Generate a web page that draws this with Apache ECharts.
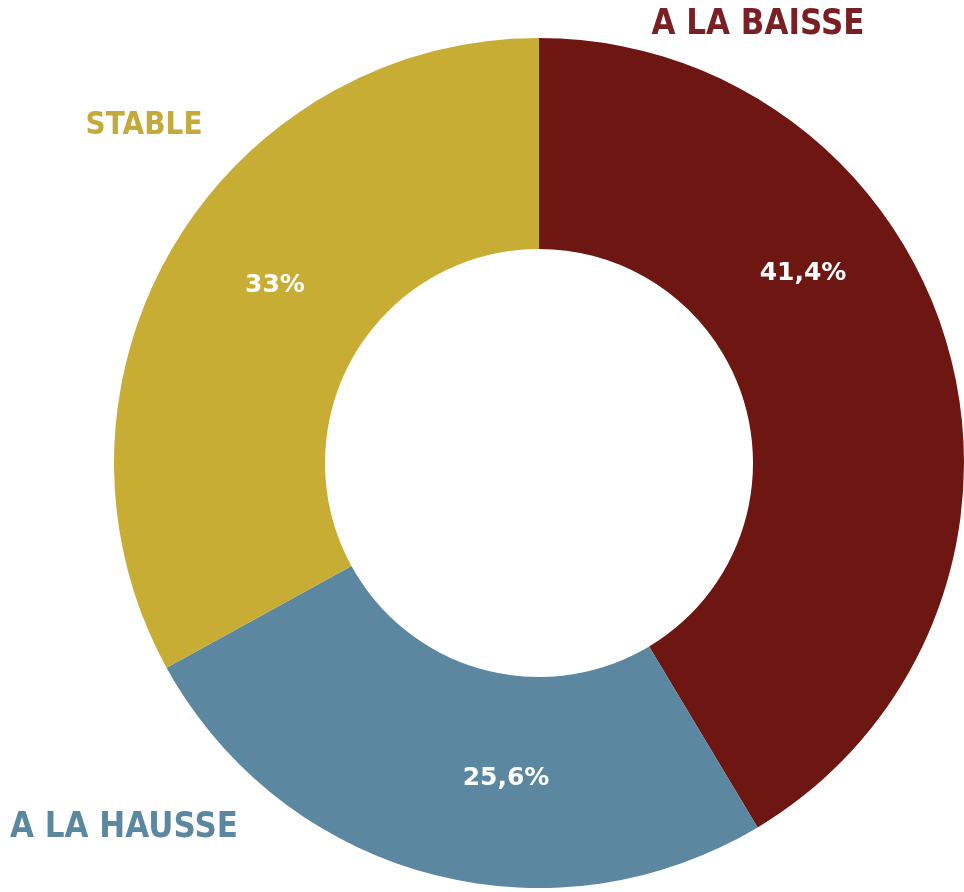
<!DOCTYPE html>
<html><head><meta charset="utf-8">
<script src="https://cdn.jsdelivr.net/npm/echarts@6/dist/echarts.min.js"></script>
<style>html,body{margin:0;padding:0;background:#fff}#c{width:964px;height:892px}</style>
</head><body><div id="c"></div>
<script>
const categories = ['A LA BAISSE', 'A LA HAUSSE', 'STABLE'];
const values = [41.4, 25.6, 33];
const sliceColors = ['#6E1612', '#5B88A0', '#C8AD35'];
const nameColors = ['#7A2024', '#5B88A0', '#C4A93C'];

const CX = 539, CY = 463;
const pctPos = [[803, 273], [506, 778], [275, 285]];
const namePos = [[758, 25, 31], [124, 828, 31], [144, 126, 28]];
const FONT = '"DejaVu Sans"';

const chart = echarts.init(document.getElementById('c'), null, {renderer: 'canvas'});
chart.setOption({
  animation: false,
  backgroundColor: '#fff',
  series: [{
    type: 'pie',
    center: [CX, CY],
    radius: [214, 425],
    startAngle: 90,
    clockwise: true,
    avoidLabelOverlap: false,
    data: categories.map((n, i) => ({name: n, value: values[i], itemStyle: {color: sliceColors[i]}})),
    label: {
      show: true, position: 'inside',
      formatter: p => String(p.value).replace('.', ',') + '%',
      color: '#fff', fontFamily: FONT, fontWeight: 'bold', fontSize: 25
    },
    labelLine: {show: false},
    labelLayout: p => ({x: pctPos[p.dataIndex][0], y: pctPos[p.dataIndex][1], align: 'center', verticalAlign: 'middle'}),
    emphasis: {disabled: true}
  }],
  graphic: categories.map((n, i) => ({
    type: 'text',
    x: namePos[i][0], y: namePos[i][1],
    scaleY: 1.12,
    style: {
      text: n, fill: nameColors[i], font: 'bold ' + namePos[i][2] + 'px ' + FONT,
      align: 'center', verticalAlign: 'middle'
    }
  }))
});
</script></body></html>
